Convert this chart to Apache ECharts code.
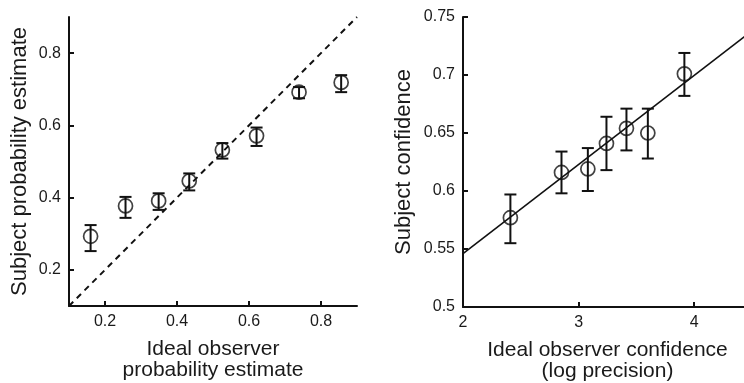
<!DOCTYPE html>
<html><head><meta charset="utf-8">
<script src="https://cdn.jsdelivr.net/npm/echarts@6/dist/echarts.min.js"></script>
<style>html,body{margin:0;padding:0;background:#fff}#c{width:744px;height:383px}</style>
</head><body><div id="c"></div>
<script>
// Left panel: ideal observer vs subject probability estimate
const leftX  = [0.16, 0.257, 0.349, 0.434, 0.526, 0.621, 0.739, 0.856];
const leftY  = [0.293, 0.377, 0.391, 0.446, 0.532, 0.571, 0.692, 0.719];
const leftLo = [0.252, 0.344, 0.366, 0.420, 0.508, 0.543, 0.675, 0.692];
const leftHi = [0.324, 0.402, 0.412, 0.467, 0.551, 0.594, 0.706, 0.739];
const identityLine = [[0.1, 0.1], [0.9, 0.9]];
const leftTicks = [0.2, 0.4, 0.6, 0.8];

// Right panel: ideal observer confidence vs subject confidence
const rightX  = [2.41, 2.852, 3.08, 3.241, 3.414, 3.599, 3.915];
const rightY  = [0.577, 0.616, 0.619, 0.641, 0.654, 0.650, 0.701];
const rightLo = [0.555, 0.598, 0.600, 0.618, 0.635, 0.628, 0.682];
const rightHi = [0.597, 0.634, 0.637, 0.664, 0.671, 0.671, 0.719];
const fitLine = [[2, 0.546], [4.5, 0.738]];
const rightXTicks = [2, 3, 4];
const rightYTicks = [0.5, 0.55, 0.6, 0.65, 0.7, 0.75];

const FONT = '"Liberation Sans", Arial, Helvetica, sans-serif';
const INK = '#111';
const TXT = '#1a1a1a';

function errRender(params, api) {
  const x = api.value(0), lo = api.value(1), hi = api.value(2);
  const a = api.coord([x, lo]), b = api.coord([x, hi]);
  const hw = 6;
  const st = {stroke: INK, lineWidth: 2};
  return {type: 'group', children: [
    {type: 'line', shape: {x1: a[0], y1: a[1], x2: b[0], y2: b[1]}, style: st},
    {type: 'line', shape: {x1: a[0]-hw, y1: a[1], x2: a[0]+hw, y2: a[1]}, style: st},
    {type: 'line', shape: {x1: b[0]-hw, y1: b[1], x2: b[0]+hw, y2: b[1]}, style: st}
  ]};
}

function ticks(vals) {
  return {show: true, inside: true, length: 5, customValues: vals, lineStyle: {color: INK, width: 2}};
}
function labels(vals) {
  return {color: TXT, fontSize: 16, fontFamily: FONT, margin: 8, customValues: vals};
}
function axisBase(extra) {
  return Object.assign({
    type: 'value',
    splitLine: {show: false},
    axisLine: {show: true, onZero: false, lineStyle: {color: INK, width: 2}},
    nameLocation: 'middle',
    nameTextStyle: {color: TXT, fontSize: 21, fontFamily: FONT, lineHeight: 21}
  }, extra);
}

const chart = echarts.init(document.getElementById('c'));
chart.setOption({
  animation: false,
  backgroundColor: '#fff',
  grid: [
    {left: 69, top: 17, width: 288, height: 289, containLabel: false, outerBoundsMode: 'none'},
    {left: 463, top: 17, width: 289, height: 290, containLabel: false, outerBoundsMode: 'none'}
  ],
  xAxis: [
    axisBase({gridIndex: 0, min: 0.1, max: 0.9, axisTick: ticks(leftTicks), axisLabel: labels(leftTicks),
      name: 'Ideal observer\nprobability estimate', nameGap: 33}),
    axisBase({gridIndex: 1, min: 2, max: 4.5, axisTick: ticks(rightXTicks), axisLabel: labels(rightXTicks),
      name: 'Ideal observer confidence\n(log precision)', nameGap: 33})
  ],
  yAxis: [
    axisBase({gridIndex: 0, min: 0.1, max: 0.9, axisTick: ticks(leftTicks), axisLabel: labels(leftTicks),
      name: 'Subject probability estimate', nameGap: 38,
      nameTextStyle: {color: TXT, fontSize: 22, fontFamily: FONT}}),
    axisBase({gridIndex: 1, min: 0.5, max: 0.75, axisTick: ticks(rightYTicks), axisLabel: labels(rightYTicks),
      name: 'Subject confidence', nameGap: 48,
      nameTextStyle: {color: TXT, fontSize: 22, fontFamily: FONT}})
  ],
  series: [
    {type: 'line', xAxisIndex: 0, yAxisIndex: 0, data: identityLine, symbol: 'none',
      lineStyle: {color: INK, width: 2, type: [6, 5]}, z: 1},
    {type: 'custom', xAxisIndex: 0, yAxisIndex: 0, renderItem: errRender,
      data: leftX.map((x, i) => [x, leftLo[i], leftHi[i]]), z: 2},
    {type: 'scatter', xAxisIndex: 0, yAxisIndex: 0, symbol: 'circle', symbolSize: 14,
      data: leftX.map((x, i) => [x, leftY[i]]),
      itemStyle: {color: 'rgba(0,0,0,0)', borderColor: INK, borderWidth: 1.7}, z: 3},
    {type: 'line', xAxisIndex: 1, yAxisIndex: 1, data: fitLine, symbol: 'none',
      lineStyle: {color: INK, width: 1.6}, z: 1},
    {type: 'custom', xAxisIndex: 1, yAxisIndex: 1, renderItem: errRender,
      data: rightX.map((x, i) => [x, rightLo[i], rightHi[i]]), z: 2},
    {type: 'scatter', xAxisIndex: 1, yAxisIndex: 1, symbol: 'circle', symbolSize: 14,
      data: rightX.map((x, i) => [x, rightY[i]]),
      itemStyle: {color: 'rgba(0,0,0,0)', borderColor: INK, borderWidth: 1.7}, z: 3}
  ]
});
</script>
</body></html>
